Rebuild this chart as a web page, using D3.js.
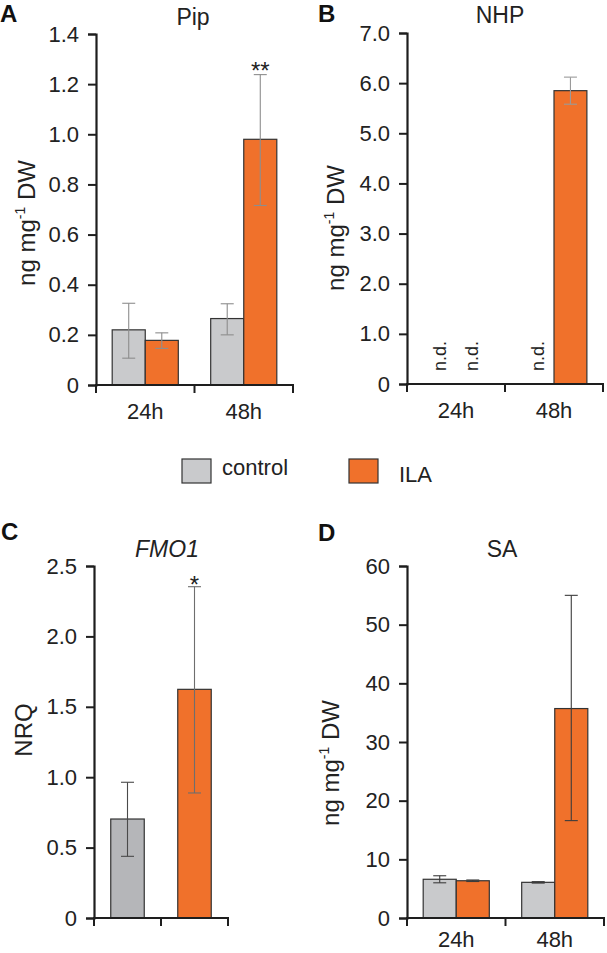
<!DOCTYPE html>
<html>
<head>
<meta charset="utf-8">
<script src="https://cdn.jsdelivr.net/npm/d3@7"></script>
<style>
  html, body { margin: 0; padding: 0; background: #fff; }
  svg { display: block; font-family: "Liberation Sans", Arial, Helvetica, sans-serif; }
</style>
</head>
<body>
<svg id="chart" width="607" height="953"></svg>
<script>
// ---------- data ----------
const timepoints = ["24h", "48h"];
const treatments = ["control", "ILA"];

// Panel A: Pip (ng mg-1 DW)
const pipMean = { control: [0.22, 0.265], ILA: [0.178, 0.98] };
const pipLow  = { control: [0.107, 0.200], ILA: [0.146, 0.716] };
const pipHigh = { control: [0.326, 0.324], ILA: [0.208, 1.238] };
const pipTicks = [0, 0.2, 0.4, 0.6, 0.8, 1.0, 1.2, 1.4];

// Panel B: NHP (ng mg-1 DW); null = not detected
const nhpMean = { control: [null, null], ILA: [null, 5.85] };
const nhpLow  = { control: [null, null], ILA: [null, 5.58] };
const nhpHigh = { control: [null, null], ILA: [null, 6.12] };
const nhpTicks = [0, 1, 2, 3, 4, 5, 6, 7];

// Panel C: FMO1 (NRQ)
const fmoMean = [0.703, 1.624];
const fmoLow  = [0.438, 0.888];
const fmoHigh = [0.964, 2.353];
const fmoTicks = [0, 0.5, 1.0, 1.5, 2.0, 2.5];

// Panel D: SA (ng mg-1 DW)
const saMean = { control: [6.6, 6.08], ILA: [6.35, 35.7] };
const saLow  = { control: [6.0, 5.95], ILA: [6.22, 16.6] };
const saHigh = { control: [7.2, 6.2],  ILA: [6.48, 55.0] };
const saTicks = [0, 10, 20, 30, 40, 50, 60];

// significance marks
const pipSig = { control: ["", ""], ILA: ["", "**"] };
const fmoSig = ["", "*"];

// ---------- styles ----------
const ORANGE = "#f0712b";
const GREY = "#c9cacc";
const GREY_C = "#b5b6b9";
const INK = "#1e1e1e";
const TICK_FS = "22px";

const svg = d3.select("#chart");

function fmt1(d) { return d === 0 ? "0" : d3.format(".1f")(d); }
function fmt0(d) { return d3.format("d")(d); }

function drawYAxis(g, y, x0, ticks, fmt) {
  const ax = d3.axisLeft(y).tickValues(ticks).tickFormat(fmt).tickSize(8).tickPadding(9);
  const a = g.append("g").attr("transform", `translate(${x0},0)`).call(ax);
  a.attr("font-family", null).attr("font-size", null);
  a.select(".domain").attr("stroke", INK).attr("stroke-width", 2.2);
  a.selectAll(".tick line").attr("stroke", INK).attr("stroke-width", 2);
  a.selectAll(".tick text").attr("fill", "#222").style("font-size", TICK_FS);
  return a;
}

function drawXAxis(g, x, y0, labelDy) {
  const [r0, r1] = x.range();
  g.append("line").attr("x1", r0 - 1).attr("x2", r1 + 1).attr("y1", y0).attr("y2", y0)
    .attr("stroke", INK).attr("stroke-width", 2.2);
  const edges = [r0].concat(x.domain().map((d, i) => r0 + x.step() * (i + 1)));
  g.selectAll(null).data(edges).join("line")
    .attr("x1", d => d).attr("x2", d => d).attr("y1", y0).attr("y2", y0 + 8)
    .attr("stroke", INK).attr("stroke-width", 2);
  g.selectAll(null).data(x.domain()).join("text")
    .attr("x", d => x(d) + x.bandwidth() / 2).attr("y", y0 + labelDy)
    .attr("text-anchor", "middle").attr("fill", "#222").style("font-size", TICK_FS)
    .text(d => d);
}

function yLabel(g, cx, cy, sup) {
  const t = g.append("text").attr("transform", `translate(${cx},${cy}) rotate(-90)`)
    .attr("text-anchor", "middle").attr("fill", "#222");
  if (sup) {
    t.style("font-size", "24px");
    t.append("tspan").text("ng mg");
    t.append("tspan").attr("dy", -10).style("font-size", "14px").text("-1");
    t.append("tspan").attr("dy", 10).text(" DW");
  } else {
    t.style("font-size", "24px").text("NRQ");
  }
}

function panelLetter(x, y, s) {
  svg.append("text").attr("x", x).attr("y", y).style("font-size", "24px")
    .style("font-weight", "bold").attr("fill", "#111").text(s);
}
function title(x, y, s, italic) {
  svg.append("text").attr("x", x).attr("y", y).attr("text-anchor", "middle")
    .style("font-size", "23px").style("font-style", italic ? "italic" : "normal")
    .attr("fill", "#222").text(s);
}

function errBar(g, cx, yLo, yHi, color) {
  g.append("line").attr("x1", cx).attr("x2", cx).attr("y1", yLo).attr("y2", yHi)
    .attr("stroke", color).attr("stroke-width", 1.1);
  [yLo, yHi].forEach(yy => g.append("line").attr("x1", cx - 6.5).attr("x2", cx + 6.5)
    .attr("y1", yy).attr("y2", yy).attr("stroke", color).attr("stroke-width", 1.1));
}

// grouped panel (A, B, D)
function groupedPanel(opts) {
  const g = svg.append("g");
  const y = d3.scaleLinear().domain(opts.domain).range([opts.y0, opts.yTop]);
  const x = d3.scaleBand().domain(timepoints).range([opts.x0, opts.x1]).padding(0);
  const xs = d3.scaleBand().domain(treatments).range([0, x.bandwidth()])
    .paddingInner(0).paddingOuter(0.49);
  const colors = { control: GREY, ILA: ORANGE };

  treatments.forEach(tr => {
    timepoints.forEach((tp, i) => {
      const v = opts.mean[tr][i];
      const bx = x(tp) + xs(tr);
      const cx = bx + xs.bandwidth() / 2;
      if (v === null) {
        g.append("text")
          .attr("transform", `translate(${cx + 6},${opts.y0 - 13}) rotate(-90)`)
          .attr("fill", "#222").style("font-size", "18px").text("n.d.");
        return;
      }
      g.append("rect").attr("x", bx).attr("y", y(v))
        .attr("width", xs.bandwidth()).attr("height", y(0) - y(v))
        .attr("fill", colors[tr]).attr("stroke", "#333").attr("stroke-width", 1.2);
      errBar(g, cx, y(opts.low[tr][i]), y(opts.high[tr][i]), opts.errColor);
      if (opts.sig && opts.sig[tr][i]) {
        g.append("text").attr("x", cx).attr("y", y(opts.high[tr][i]) + 4)
          .attr("text-anchor", "middle").style("font-size", "24px").attr("fill", "#222")
          .text(opts.sig[tr][i]);
      }
    });
  });
  drawYAxis(g, y, opts.x0, opts.ticks, opts.fmt);
  drawXAxis(g, x, opts.y0, opts.labelDy);
  return g;
}

// Panel A
panelLetter(0, 22, "A");
title(193, 25, "Pip");
const gA = groupedPanel({ x0: 96, x1: 293, y0: 385, yTop: 34, domain: [0, 1.4],
  mean: pipMean, low: pipLow, high: pipHigh, ticks: pipTicks, fmt: fmt1,
  errColor: "#8d8d8d", sig: pipSig, labelDy: 34 });
yLabel(gA, 35, 223, true);

// Panel B
panelLetter(318, 22, "B");
title(500, 23, "NHP");
const gB = groupedPanel({ x0: 407, x1: 603, y0: 384, yTop: 33, domain: [0, 7],
  mean: nhpMean, low: nhpLow, high: nhpHigh, ticks: nhpTicks, fmt: fmt1,
  errColor: "#9a9a9a", labelDy: 34 });
yLabel(gB, 344, 228, true);

// Legend
const legend = svg.append("g");
const legItems = [
  { name: treatments[0], color: GREY, x: 182, tx: 222, ty: 475 },
  { name: treatments[1], color: ORANGE, x: 349, tx: 399, ty: 482 }
];
legItems.forEach(it => {
  legend.append("rect").attr("x", it.x).attr("y", 459).attr("width", 29).attr("height", 24)
    .attr("fill", it.color).attr("stroke", "#333").attr("stroke-width", 1.2);
  legend.append("text").attr("x", it.tx).attr("y", it.ty)
    .style("font-size", "22px").attr("fill", "#222").text(it.name);
});

// Panel C
panelLetter(1, 540, "C");
title(167, 557, "FMO1", true);
(function () {
  const g = svg.append("g");
  const y = d3.scaleLinear().domain([0, 2.5]).range([918, 566]);
  const x = d3.scaleBand().domain(treatments).range([94, 228]).paddingInner(0.5).paddingOuter(0.25);
  const cols = [GREY_C, ORANGE];
  const errCols = ["#4a4a4a", "#6e6e6e"];
  treatments.forEach((tr, i) => {
    const bx = x(tr), cx = bx + x.bandwidth() / 2;
    g.append("rect").attr("x", bx).attr("y", y(fmoMean[i]))
      .attr("width", x.bandwidth()).attr("height", y(0) - y(fmoMean[i]))
      .attr("fill", cols[i]).attr("stroke", "#333").attr("stroke-width", 1.2);
    errBar(g, cx, y(fmoLow[i]), y(fmoHigh[i]), errCols[i]);
    if (fmoSig[i]) {
      g.append("text").attr("x", cx).attr("y", y(fmoHigh[i]) + 6)
        .attr("text-anchor", "middle").style("font-size", "24px").attr("fill", "#222")
        .text(fmoSig[i]);
    }
  });
  drawYAxis(g, y, 94, fmoTicks, fmt1);
  const [r0, r1] = x.range();
  g.append("line").attr("x1", r0 - 1).attr("x2", r1 + 1).attr("y1", 918).attr("y2", 918)
    .attr("stroke", INK).attr("stroke-width", 2.2);
  g.selectAll(null).data([r0, (r0 + r1) / 2, r1]).join("line")
    .attr("x1", d => d).attr("x2", d => d).attr("y1", 918).attr("y2", 926)
    .attr("stroke", INK).attr("stroke-width", 2);
  yLabel(g, 32, 730, false);
})();

// Panel D
panelLetter(318, 541, "D");
title(502, 557, "SA");
const gD = groupedPanel({ x0: 407, x1: 604, y0: 918, yTop: 566, domain: [0, 60],
  mean: saMean, low: saLow, high: saHigh, ticks: saTicks, fmt: fmt0,
  errColor: "#3c3c3c", labelDy: 29 });
yLabel(gD, 339, 763, true);
</script>
</body>
</html>
